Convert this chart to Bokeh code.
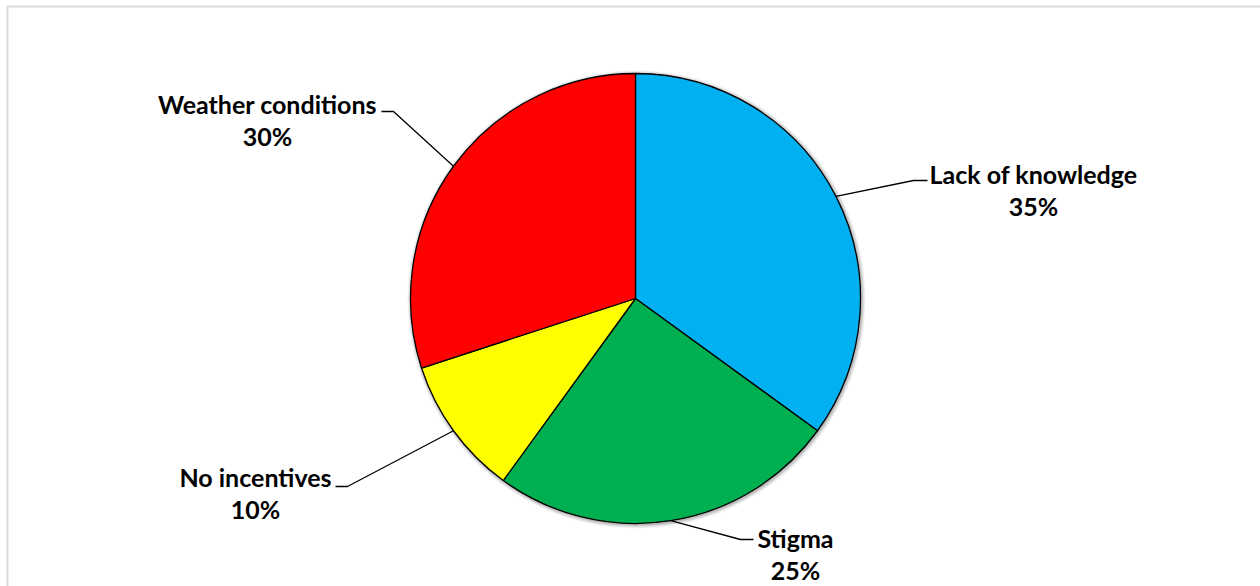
import math

from bokeh.core.properties import value
from bokeh.embed import file_html
from bokeh.models import ColumnDataSource, Range1d
from bokeh.plotting import figure
from bokeh.resources import INLINE

# Reasons and their shares, clockwise from 12 o'clock
categories = ["Lack of knowledge", "Stigma", "No incentives", "Weather conditions"]
shares = [35, 25, 10, 30]
colors = ["#00B0F0", "#00B050", "#FFFF00", "#FF0000"]

W, H = 1260, 586
CX, CY, R = 635, 298, 225  # pie centre and radius in page pixels (y measured from top)


def Y(y_px):
    """Convert a top-down pixel row into the bottom-up data coordinate."""
    return H - y_px


# Label placement: text centre x, baseline of the name line, leader elbow and end
label_layout = {
    "Lack of knowledge": dict(tx=1033, ty=182, elbow=(913, 180), end=(927, 180)),
    "Stigma": dict(tx=795, ty=546, elbow=(740, 539), end=(753, 539)),
    "No incentives": dict(tx=255, ty=485, elbow=(347, 486), end=(335, 486)),
    "Weather conditions": dict(tx=267, ty=112, elbow=(393, 111), end=(381, 111)),
}
LINE_GAP = 32
BASELINE_SHIFT = -9  # renderer places the alphabetic baseline slightly low

total = sum(shares)
starts, ends, mids = [], [], []
cum = 0
for v in shares:
    a0 = math.pi / 2 - 2 * math.pi * cum / total
    a1 = math.pi / 2 - 2 * math.pi * (cum + v) / total
    starts.append(a0)
    ends.append(a1)
    mids.append((a0 + a1) / 2)
    cum += v

wedges = ColumnDataSource(dict(
    category=categories, share=shares, color=colors,
    start=starts, end=ends,
))

p = figure(
    width=W, height=H,
    x_range=Range1d(0, W), y_range=Range1d(0, H),
    x_axis_type=None, y_axis_type=None,
    toolbar_location=None, output_backend="svg",
    min_border=0, min_border_left=0, min_border_right=0,
    min_border_top=0, min_border_bottom=0,
)
p.grid.visible = False
p.outline_line_color = None
p.background_fill_color = "white"
p.border_fill_color = "white"

# Chart-area frame (light grey), left and top edges visible
p.line(x=[7, 7, W + 10], y=[Y(H + 10), Y(6), Y(6)], line_color="#d9d9d9", line_width=2)

# Soft shadow under the pie
for k, a in [(4, 0.05), (3, 0.06), (2, 0.08), (1, 0.10)]:
    p.circle(x=CX + 1, y=Y(CY) - 1, radius=R + k, fill_color="black", fill_alpha=a, line_color=None)

p.wedge(
    x=CX, y=Y(CY), radius=R,
    start_angle="start", end_angle="end", direction="clock",
    fill_color="color", line_color="black", line_width=1.3,
    source=wedges,
)

# Leader lines and labels
xs, ys = [], []
tx, ty_name, ty_pct, names, pcts = [], [], [], [], []
for cat, v, m in zip(categories, shares, mids):
    lay = label_layout[cat]
    ex = CX + R * math.cos(m)
    ey = Y(CY) + R * math.sin(m)
    xs.append([ex, lay["elbow"][0], lay["end"][0]])
    ys.append([ey, Y(lay["elbow"][1]), Y(lay["end"][1])])
    tx.append(lay["tx"])
    ty_name.append(Y(lay["ty"] + BASELINE_SHIFT))
    ty_pct.append(Y(lay["ty"] + LINE_GAP + BASELINE_SHIFT))
    names.append(cat)
    pcts.append(f"{v}%")

p.multi_line(xs=xs, ys=ys, line_color="black", line_width=1.3)

labels = ColumnDataSource(dict(x=tx, yn=ty_name, yp=ty_pct, name=names, pct=pcts))
common = dict(
    text_font=value("Lato"), text_font_style="bold", text_font_size="25px",
    text_align="center", text_baseline="alphabetic", text_color="black",
    source=labels,
)
p.text(x="x", y="yn", text="name", **common)
p.text(x="x", y="yp", text="pct", **common)

open("out.html", "w").write(file_html(p, INLINE))
